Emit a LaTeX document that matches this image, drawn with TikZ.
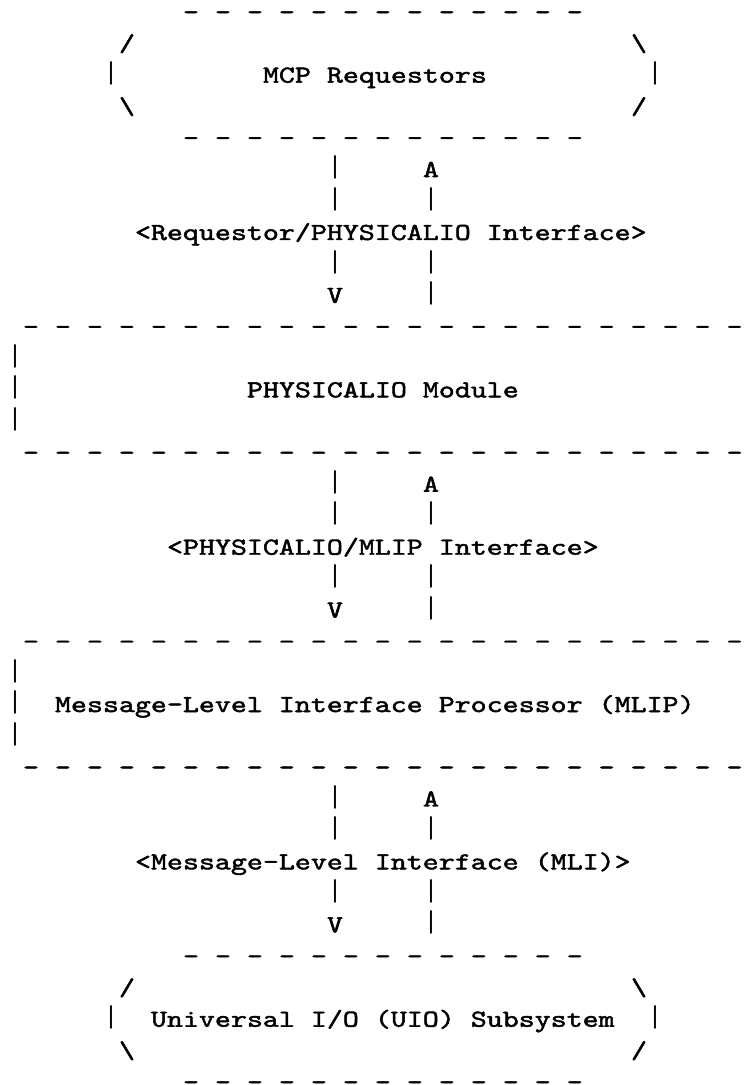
\documentclass[tikz,border=0pt]{standalone}
\usepackage{fontspec}
\newfontfamily\asciifont[FakeBold=1.6]{lmmono10-regular.otf}
\newfontfamily\barfont{DejaVu Sans Mono}
\frenchspacing
\newcommand\asc[1]{\scalebox{1.2431}[1]{#1}}
\newcommand\vbar{\raisebox{3.45pt}{\barfont\fontsize{23.1}{28}\selectfont|}}
\tikzset{
  ln/.style={anchor=base west, inner sep=0pt, outer sep=0pt, text=black,
    font=\asciifont\fontsize{24.5}{30}\selectfont},
  vb/.style={anchor=base, inner sep=0pt, outer sep=0pt, text=black},
}
\begin{document}
\begin{tikzpicture}[x=16pt,y=-31.47pt]
\fill[white] (0,0) rectangle (46.5,34.477);
\useasboundingbox (0,0) rectangle (46.5,34.477);
\begin{scope}[shift={(0.4375,0.626)}]
% MCP Requestors
\node[ln] (mcpTop) at (11,0) {\asc{- - - - - - - - - - - - -}};
\node[ln] (mcpTL) at (7,1) {\asc{/}};
\node[ln] (mcpTR) at (39,1) {\asc{\textbackslash}};
\node[vb] (mcpL) at (6.5,2) {\vbar};
\node[ln] (mcp) at (16,2) {\asc{MCP Requestors}};
\node[vb] (mcpR) at (40.5,2) {\vbar};
\node[ln] (mcpBL) at (7,3) {\asc{\textbackslash}};
\node[ln] (mcpBR) at (39,3) {\asc{/}};
\node[ln] (mcpBot) at (11,4) {\asc{- - - - - - - - - - - - -}};
% interface arrows
\foreach \b/\nm in {5/a,15/b,25/c}{
  \node[vb] (\nm down1) at (20.5,\b) {\vbar};
  \node[ln] (\nm up1) at (26,\b) {\asc{A}};
  \node[vb] (\nm down2) at (20.5,\b+1) {\vbar};
  \node[vb] (\nm up2) at (26.5,\b+1) {\vbar};
  \node[vb] (\nm down3) at (20.5,\b+3) {\vbar};
  \node[vb] (\nm up3) at (26.5,\b+3) {\vbar};
  \node[ln] (\nm down4) at (20,\b+4) {\asc{V}};
  \node[vb] (\nm up4) at (26.5,\b+4) {\vbar};
}
\node[ln] (ifA) at (8,7) {\asc{<Requestor/PHYSICALIO Interface>}};
\node[ln] (ifB) at (10,17) {\asc{<PHYSICALIO/MLIP Interface>}};
\node[ln] (ifC) at (8,27) {\asc{<Message-Level Interface (MLI)>}};
% PHYSICALIO module
\node[ln] (phyTop) at (1,10) {\asc{- - - - - - - - - - - - - - - - - - - - - - -}};
\node[vb] (phyL1) at (0.5,11) {\vbar};
\node[vb] (phyL2) at (0.5,12) {\vbar};
\node[ln] (phy) at (15,12) {\asc{PHYSICALIO Module}};
\node[vb] (phyL3) at (0.5,13) {\vbar};
\node[ln] (phyBot) at (1,14) {\asc{- - - - - - - - - - - - - - - - - - - - - - -}};
% MLIP
\node[ln] (mlipTop) at (1,20) {\asc{- - - - - - - - - - - - - - - - - - - - - - -}};
\node[vb] (mlipL1) at (0.5,21) {\vbar};
\node[vb] (mlipL2) at (0.5,22) {\vbar};
\node[ln] (mlip) at (3,22) {\asc{Message-Level Interface Processor (MLIP)}};
\node[vb] (mlipL3) at (0.5,23) {\vbar};
\node[ln] (mlipBot) at (1,24) {\asc{- - - - - - - - - - - - - - - - - - - - - - -}};
% UIO
\node[ln] (uioTop) at (11,30) {\asc{- - - - - - - - - - - - -}};
\node[ln] (uioTL) at (7,31) {\asc{/}};
\node[ln] (uioTR) at (39,31) {\asc{\textbackslash}};
\node[vb] (uioL) at (6.5,32) {\vbar};
\node[ln] (uio) at (9,32) {\asc{Universal I/O (UIO) Subsystem}};
\node[vb] (uioR) at (40.5,32) {\vbar};
\node[ln] (uioBL) at (7,33) {\asc{\textbackslash}};
\node[ln] (uioBR) at (39,33) {\asc{/}};
\node[ln] (uioBot) at (11,34) {\asc{- - - - - - - - - - - - -}};
\end{scope}
\end{tikzpicture}
\end{document}
